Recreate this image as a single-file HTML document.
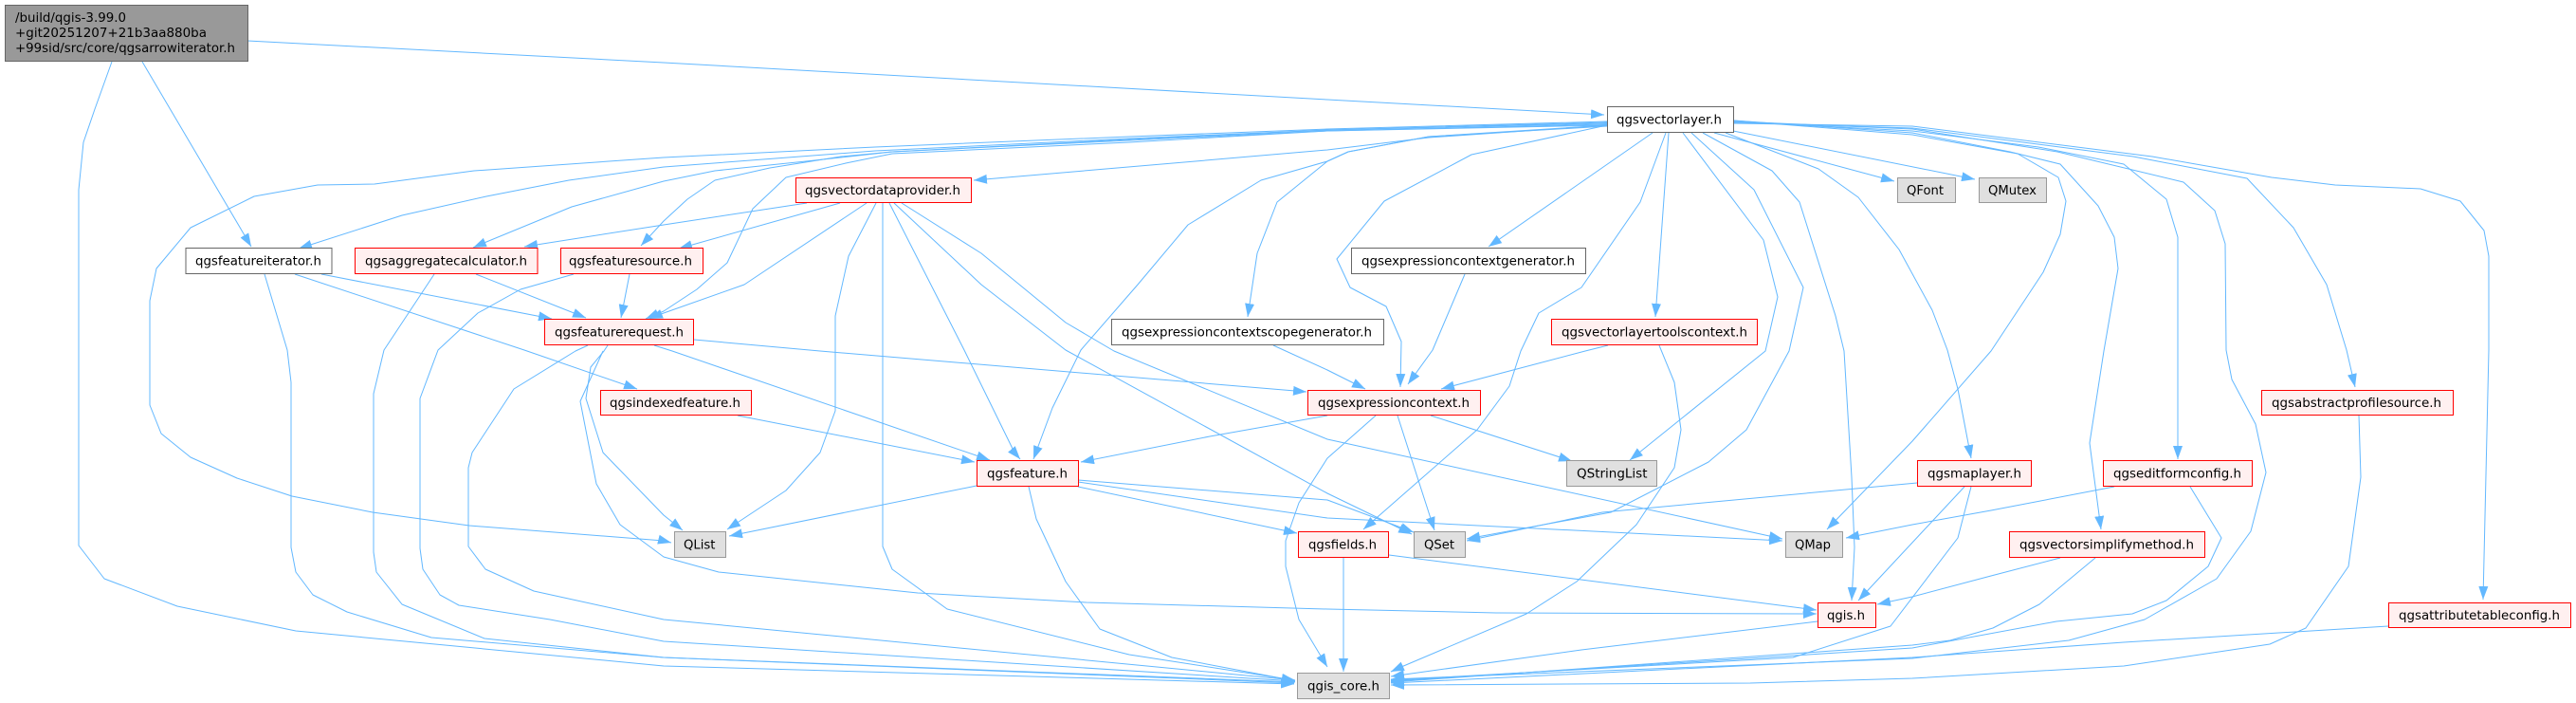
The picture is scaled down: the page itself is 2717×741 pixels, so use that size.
<!DOCTYPE html>
<html><head><meta charset="utf-8"><style>
html,body{margin:0;padding:0;background:#fff;width:2717px;height:741px;overflow:hidden}
svg{display:block}
.e polyline{fill:none;stroke:#63b8ff;stroke-width:1;stroke-linejoin:round;marker-end:url(#a)}
.e polyline.n{marker-end:none}
rect{stroke-width:1}
.r{fill:#fff0f0;stroke:#f00}
.g{fill:#e0e0e0;stroke:#999}
.w{fill:#fff;stroke:#666}
text{font-family:"DejaVu Sans","Liberation Sans",sans-serif;font-size:13.33px;fill:#000}
</style></head><body>
<svg xmlns="http://www.w3.org/2000/svg" width="2717" height="741" viewBox="0 0 2717 741">
<defs><marker id="a" markerUnits="userSpaceOnUse" markerWidth="15" markerHeight="12" refX="14" refY="5.5" orient="auto"><path d="M0,0.5 L14,5.5 L0,10.5 Z" fill="#63b8ff"/></marker></defs>
<g class="e">
<polyline points="261,43 700,66 1400,105 1692,121"/>
<polyline points="118,65 100,115 88,150 83,200 83,575 110,610 187,639 312,665 700,702 1365,721"/>
<polyline points="150,65 265,260"/>
<polyline points="1695,128 1400,136 1191,144 923,155 700,166 500,180 395,194 335,195 268,207 201,240 165,283 158,317 158,427 170,457 201,482 250,504 308,523 393,540 495,554 700,570 708,572"/>
<polyline points="1695,129 1400,137 1191,146 923,159 700,176 600,190 513,207 424,227 315,262"/>
<polyline points="1695,130 1400,137 1191,147 941,160 850,170 754,180 700,191 603,218 513,255 499,261"/>
<polyline points="1695,131 1400,138 1191,148 941,160 887,165 812,177 754,190 725,210 700,233 676,259"/>
<polyline points="1695,132 1400,138 1191,150 941,162 892,172 829,187 794,220 767,277 735,305 700,328 681,336"/>
<polyline points="1695,132 1507,145 1400,158 1027,190"/>
<polyline points="1695,132 1507,144 1422,160 1400,170 1347,213 1326,267 1316,334"/>
<polyline points="1695,133 1507,144 1422,160 1400,170 1330,190 1253,237 1200,300 1140,369 1110,430 1090,484"/>
<polyline points="1695,132 1552,163 1460,212 1410,273 1424,303 1462,323 1478,360 1477,408"/>
<polyline points="1743,140 1570,260"/>
<polyline points="1757,140 1730,213 1668,303 1623,330 1604,370 1592,407 1558,453 1438,558"/>
<polyline points="1760,140 1746,334"/>
<polyline points="1775,140 1860,253 1875,313 1862,370 1719,485"/>
<polyline points="1784,140 1850,200 1902,303 1887,370 1842,453 1802,487 1699,540 1547,568"/>
<polyline points="1796,140 1869,180 1898,213 1936,333 1945,370 1953,503 1956,577 1953,633"/>
<polyline points="1820,140 1918,178 1960,208 2003,263 2038,327 2054,369 2065,410 2079,483"/>
<polyline points="1808,140 1998,191"/>
<polyline points="1828,138 2083,189"/>
<polyline points="1828,127 2017,142 2128,162 2171,187 2179,212 2173,247 2155,287 2100,370 2017,465 1927,558"/>
<polyline points="1828,127 2017,140 2120,160 2173,173 2213,217 2230,250 2234,283 2219,370 2204,467 2216,558"/>
<polyline points="1828,128 2017,138 2150,155 2240,173 2285,210 2297,250 2297,484"/>
<polyline points="1828,128 2017,136 2170,160 2303,192 2336,222 2347,257 2348,369 2354,400 2379,447 2390,498 2374,560 2338,610 2262,653 2182,675 2017,694 1467,716"/>
<polyline points="1828,129 2017,135 2250,165 2370,188 2419,240 2454,300 2475,369 2484,408"/>
<polyline points="1828,130 2017,133 2270,165 2396,187 2463,195 2553,199 2595,212 2620,243 2625,270 2625,369 2619,632"/>
<polyline points="279,289 303,369 307,403 307,577 312,603 330,627 366,645 455,672 700,693 1365,720"/>
<polyline points="339,289 582,336"/>
<polyline points="311,289 553,369 672,410"/>
<polyline points="458,289 405,369 394,415 394,582 397,603 424,637 511,673 700,693 1366,719"/>
<polyline points="502,289 618,335"/>
<polyline points="605,289 549,305 504,330 462,369 443,420 443,578 446,600 464,627 484,638 580,653 700,676 1366,718"/>
<polyline points="664,289 655,335"/>
<polyline points="620,364 607,370 542,410 498,477 494,493 494,576 512,600 563,623 700,653 1366,717"/>
<polyline points="641,364 637,370 623,387 618,420 636,477 700,543 720,559"/>
<polyline points="636,370 612,423 629,510 654,553 700,587 758,603 968,625 1146,635 1400,642 1578,646 1916,647"/>
<polyline points="732,358 865,370 1378,413"/>
<polyline points="690,364 709,370 1044,485"/>
<polyline points="778,438 1028,487"/>
<polyline points="851,214 700,237 553,260"/>
<polyline points="886,214 716,262"/>
<polyline points="914,214 785,300 700,330 685,336"/>
<polyline points="924,214 895,270 881,333 881,433 865,477 829,517 767,558"/>
<polyline points="931,214 931,576 941,600 999,642 1191,690 1352,715 1366,717"/>
<polyline points="938,214 1017,369 1070,477 1076,484"/>
<polyline points="943,214 1035,300 1124,369 1400,520 1489,563"/>
<polyline points="951,214 1035,267 1124,340 1175,370 1400,463 1880,568"/>
<polyline points="1030,512 769,565"/>
<polyline points="1085,513 1093,547 1124,613 1160,663 1236,693 1352,715 1366,718"/>
<polyline points="1137,513 1368,562"/>
<polyline points="1137,506 1400,527 1491,561"/>
<polyline points="1137,508 1400,546 1880,570"/>
<polyline points="1417,588 1417,708"/>
<polyline points="1465,585 1916,643"/>
<polyline points="1343,364 1400,390 1440,410"/>
<polyline points="1545,289 1511,369 1485,405"/>
<polyline points="1696,364 1672,370 1520,410"/>
<polyline points="1400,438 1276,460 1140,487"/>
<polyline points="1451,438 1400,483 1370,530 1356,570 1356,597 1370,653 1400,703"/>
<polyline points="1474,438 1513,559"/>
<polyline points="1509,438 1658,486"/>
<polyline points="1750,364 1766,403 1773,453 1766,493 1726,553 1663,613 1610,647 1478,703 1467,708"/>
<polyline points="2022,509 1690,540 1547,570"/>
<polyline points="2072,513 1960,633"/>
<polyline points="2079,513 2065,567 1994,660 1891,693 1467,717"/>
<polyline points="1917,655 1668,685 1467,713"/>
<polyline points="2230,513 2100,538 2017,553 1947,567"/>
<polyline points="2310,513 2343,567 2329,597 2285,633 2249,647 2169,655 2017,683 1467,718"/>
<polyline points="2173,588 2100,607 2017,629 1980,637"/>
<polyline points="2210,588 2151,637 2102,662 2057,675 2017,680 1467,719"/>
<polyline points="2488,438 2490,503 2477,597 2432,662 2394,679 2240,702 2017,715 1846,720 1467,722"/>
<polyline points="2519,660 2240,677 2017,693 1467,720"/>
</g>
<g>
<rect class="w" style="fill:#999" x="5.5" y="5.5" width="256" height="59"/>
<text x="16" y="23" textLength="117" lengthAdjust="spacingAndGlyphs">/build/qgis-3.99.0</text>
<text x="16" y="39" textLength="202" lengthAdjust="spacingAndGlyphs">+git20251207+21b3aa880ba</text>
<text x="16" y="55" textLength="232" lengthAdjust="spacingAndGlyphs">+99sid/src/core/qgsarrowiterator.h</text>

<rect class="w" x="1695.5" y="112.5" width="133" height="27"/><text x="1705" y="130.5" textLength="111" lengthAdjust="spacingAndGlyphs">qgsvectorlayer.h</text>
<rect class="w" x="196" y="261.5" width="154" height="27"/><text x="206" y="279.5" textLength="133" lengthAdjust="spacingAndGlyphs">qgsfeatureiterator.h</text>
<rect class="r" x="374.5" y="261.5" width="192.5" height="27"/><text x="385" y="279.5" textLength="171" lengthAdjust="spacingAndGlyphs">qgsaggregatecalculator.h</text>
<rect class="r" x="591.5" y="261.5" width="150" height="27"/><text x="600" y="279.5" textLength="130" lengthAdjust="spacingAndGlyphs">qgsfeaturesource.h</text>
<rect class="r" x="574.5" y="336.5" width="157" height="27"/><text x="585" y="354.5" textLength="136" lengthAdjust="spacingAndGlyphs">qgsfeaturerequest.h</text>
<rect class="r" x="839.5" y="187.5" width="185" height="26"/><text x="849" y="205" textLength="164" lengthAdjust="spacingAndGlyphs">qgsvectordataprovider.h</text>
<rect class="w" x="1172.5" y="336.5" width="287" height="27"/><text x="1183" y="354.5" textLength="264" lengthAdjust="spacingAndGlyphs">qgsexpressioncontextscopegenerator.h</text>
<rect class="w" x="1425.5" y="261.5" width="247" height="27"/><text x="1436" y="279.5" textLength="225" lengthAdjust="spacingAndGlyphs">qgsexpressioncontextgenerator.h</text>
<rect class="r" x="1636.5" y="336.5" width="217" height="27"/><text x="1647" y="354.5" textLength="196" lengthAdjust="spacingAndGlyphs">qgsvectorlayertoolscontext.h</text>
<rect class="g" x="2001.5" y="187.5" width="61" height="26"/><text x="2011" y="205" textLength="39" lengthAdjust="spacingAndGlyphs">QFont</text>
<rect class="g" x="2087.5" y="187.5" width="71" height="26"/><text x="2097" y="205" textLength="51" lengthAdjust="spacingAndGlyphs">QMutex</text>
<rect class="r" x="633.5" y="411.5" width="159" height="26"/><text x="643" y="429" textLength="138" lengthAdjust="spacingAndGlyphs">qgsindexedfeature.h</text>
<rect class="r" x="1379.5" y="411.5" width="182" height="26"/><text x="1390" y="429" textLength="160" lengthAdjust="spacingAndGlyphs">qgsexpressioncontext.h</text>
<rect class="r" x="2385.5" y="411.5" width="202" height="26"/><text x="2396" y="429" textLength="179" lengthAdjust="spacingAndGlyphs">qgsabstractprofilesource.h</text>
<rect class="r" x="1030.5" y="485.5" width="107" height="27"/><text x="1041" y="503.5" textLength="85" lengthAdjust="spacingAndGlyphs">qgsfeature.h</text>
<rect class="g" x="1652.5" y="485.5" width="95" height="27"/><text x="1663" y="503.5" textLength="74.5" lengthAdjust="spacingAndGlyphs">QStringList</text>
<rect class="r" x="2022.5" y="485.5" width="120" height="27"/><text x="2033" y="503.5" textLength="99" lengthAdjust="spacingAndGlyphs">qgsmaplayer.h</text>
<rect class="r" x="2218.5" y="485.5" width="157" height="27"/><text x="2229" y="503.5" textLength="135" lengthAdjust="spacingAndGlyphs">qgseditformconfig.h</text>
<rect class="g" x="711.5" y="560.5" width="54" height="27"/><text x="721" y="578.5" textLength="33.5" lengthAdjust="spacingAndGlyphs">QList</text>
<rect class="r" x="1369.5" y="560.5" width="95" height="27"/><text x="1380" y="578.5" textLength="72" lengthAdjust="spacingAndGlyphs">qgsfields.h</text>
<rect class="g" x="1491.5" y="560.5" width="54" height="27"/><text x="1502" y="578.5" textLength="32" lengthAdjust="spacingAndGlyphs">QSet</text>
<rect class="g" x="1883.5" y="560.5" width="60" height="27"/><text x="1893" y="578.5" textLength="38" lengthAdjust="spacingAndGlyphs">QMap</text>
<rect class="r" x="2119.5" y="560.5" width="206" height="27"/><text x="2130" y="578.5" textLength="184" lengthAdjust="spacingAndGlyphs">qgsvectorsimplifymethod.h</text>
<rect class="r" x="1917.5" y="635.5" width="61" height="26"/><text x="1927" y="653" textLength="40" lengthAdjust="spacingAndGlyphs">qgis.h</text>
<rect class="r" x="2519.5" y="635.5" width="192" height="26"/><text x="2530" y="653" textLength="170" lengthAdjust="spacingAndGlyphs">qgsattributetableconfig.h</text>
<rect class="g" x="1368.5" y="709.5" width="97" height="27"/><text x="1379" y="727.5" textLength="76" lengthAdjust="spacingAndGlyphs">qgis_core.h</text>
</g>
</svg>
</body></html>
